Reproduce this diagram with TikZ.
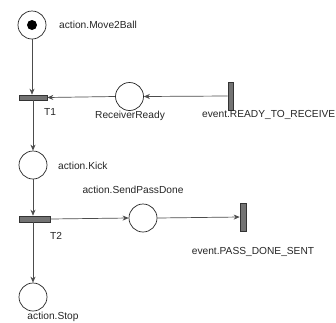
\documentclass[tikz,border=0pt]{standalone}
\usepackage{fontspec}
\setmainfont{Liberation Sans}
\usetikzlibrary{arrows.meta}
\begin{document}
\begin{tikzpicture}[x=1pt,y=-1pt,
 place/.style={circle,draw=black!85,line width=0.7pt,minimum size=28pt,inner sep=0pt},
 trans/.style={rectangle,draw=black!80,fill=black!55,line width=0.6pt,inner sep=0pt},
 htrans/.style={trans,minimum width=28pt,minimum height=5pt},
 vtrans/.style={trans,minimum width=5pt,minimum height=28pt},
 lbl/.style={font=\fontsize{10.2}{12}\selectfont,text=black!85,inner sep=0pt},
 arc/.style={draw=black!70,line width=0.7pt,-{Stealth[length=6pt,width=5pt]}}]
\useasboundingbox[fill=white] (0,0) rectangle (336,322);
\node[place] (m2b) at (32,25) {};
\node[circle,fill=black,minimum size=10pt,inner sep=0pt] (tok) at (m2b) {};
\node[lbl,anchor=west] (lm2b) at (59,25) {action.Move2Ball};
\node[htrans] (t1) at (33,97.5) {};
\node[lbl] (lt1) at (50,112) {T1};
\node[place] (rr) at (129.5,96.5) {};
\node[lbl] (lrr) at (130,116) {ReceiverReady};
\node[vtrans] (ertr) at (230.5,96) {};
\node[lbl,anchor=west] (lertr) at (202,115) {event.READY\_TO\_RECEIVE};
\node[place] (kick) at (33,165) {};
\node[lbl,anchor=west] (lkick) at (58,166) {action.Kick};
\node[htrans,minimum width=31pt,minimum height=6pt] (t2) at (34.5,219) {};
\node[lbl] (lt2) at (56,236) {T2};
\node[place] (spd) at (143,218) {};
\node[lbl] (lspd) at (133,190) {action.SendPassDone};
\node[vtrans,minimum height=28pt,minimum width=6pt] (pds) at (243,217) {};
\node[lbl] (lpds) at (253,252) {event.PASS\_DONE\_SENT};
\node[place] (stop) at (33,297) {};
\node[lbl] (lstop) at (53,317) {action.Stop};
\draw[arc] (m2b.south) -- (m2b.south |- t1.north);
\draw[arc] (t1.south) -- (kick.north);
\draw[arc] (rr.west) -- (t1.east);
\draw[arc] (ertr.west) -- (rr.east);
\draw[arc] (kick.south) -- (kick.south |- t2.north);
\draw[arc] (t2.east) -- (spd.west);
\draw[arc] (t2.south -| stop.north) -- (stop.north);
\draw[arc] (spd.east) -- (pds.west);
\end{tikzpicture}
\end{document}
